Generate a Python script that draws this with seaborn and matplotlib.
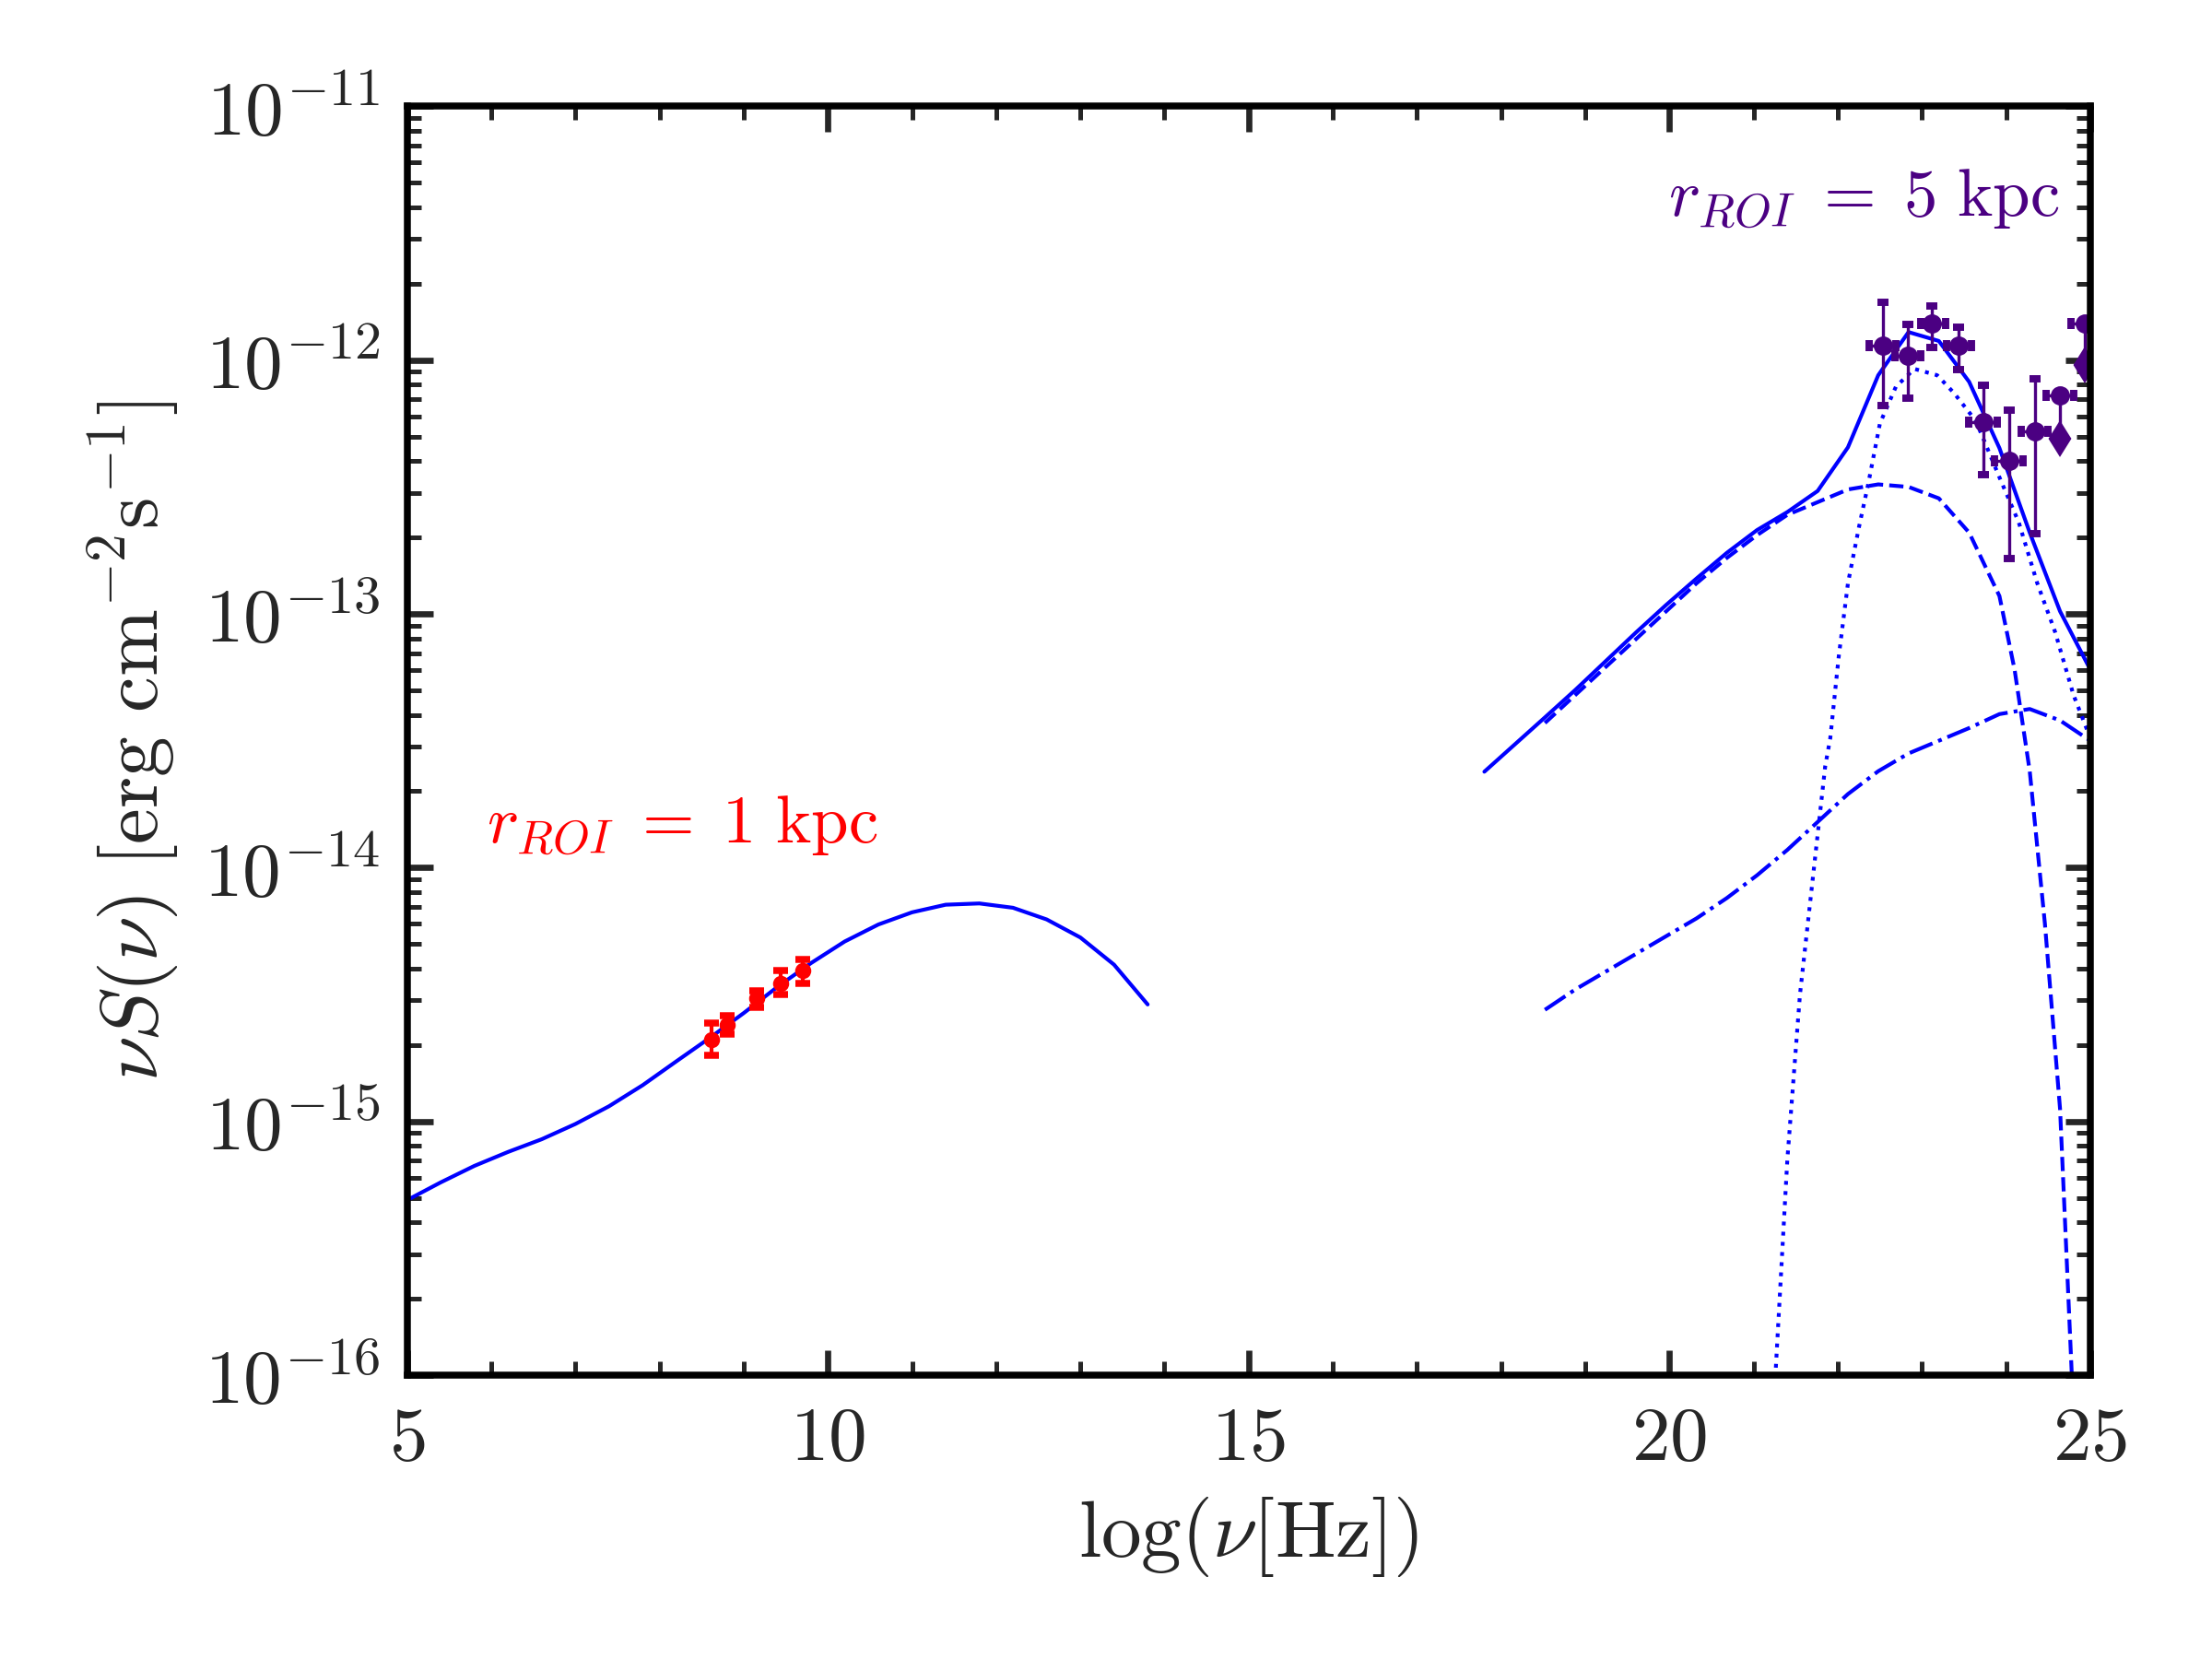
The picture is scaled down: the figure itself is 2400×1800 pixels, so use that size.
import numpy as np
import pandas as pd
import matplotlib
matplotlib.use('Agg')
import matplotlib.pyplot as plt
import seaborn as sns
from matplotlib.ticker import MultipleLocator, LogLocator, FuncFormatter, NullFormatter

# model curves, log10(nu [Hz]) vs log10(nu S(nu) [erg cm^-2 s^-1])
radio_lognu = [5.0, 5.4, 5.8, 6.2, 6.6, 7.0, 7.4, 7.8, 8.2, 8.6, 9.0, 9.4,
               9.8, 10.2, 10.6, 11.0, 11.4, 11.8, 12.2, 12.6, 13.0, 13.4, 13.8]
radio_logflux = [-15.31, -15.24, -15.175, -15.12, -15.07, -15.01, -14.94, -14.857,
                 -14.763, -14.67, -14.573, -14.47, -14.376, -14.291, -14.224, -14.176,
                 -14.146, -14.141, -14.158, -14.204, -14.275, -14.382, -14.539]

gamma_lognu = [17.80, 18.16, 18.52, 18.88, 19.24, 19.60, 19.96, 20.32, 20.68, 21.04,
               21.40, 21.76, 22.12, 22.48, 22.84, 23.20, 23.56, 23.92, 24.28, 24.64, 25.00]
total_logflux = [-13.622, -13.515, -13.408, -13.30, -13.187, -13.074, -12.965, -12.861,
                 -12.76, -12.67, -12.599, -12.516, -12.344, -12.06, -11.89, -11.925,
                 -12.086, -12.347, -12.68, -12.99, -13.22]

ic_lognu = [18.52, 18.88, 19.24, 19.60, 19.96, 20.32, 20.68, 21.04, 21.40, 21.76,
            22.12, 22.48, 22.84, 23.20, 23.56, 23.92, 24.10, 24.28, 24.46, 24.64, 24.82]
ic_logflux = [-13.43, -13.32, -13.21, -13.10, -12.99, -12.88, -12.78, -12.69, -12.61,
              -12.56, -12.51, -12.49, -12.50, -12.545, -12.68, -12.93, -13.22, -13.62,
              -14.22, -14.95, -16.3]

pion_lognu = [21.25, 21.40, 21.55, 21.70, 21.85, 21.91, 22.01, 22.12, 22.25, 22.36,
              22.50, 22.69, 22.91, 23.18, 23.38, 23.64, 23.93, 24.15, 24.37, 24.58,
              24.80, 25.00]
pion_logflux = [-16.05, -15.15, -14.50, -14.05, -13.60, -13.49, -13.17, -12.88, -12.66,
                -12.49, -12.25, -12.105, -12.035, -12.06, -12.13, -12.24, -12.47, -12.64,
                -12.88, -13.07, -13.32, -13.49]

brems_lognu = [18.52, 18.88, 19.24, 19.60, 19.96, 20.32, 20.68, 21.04, 21.40, 21.76,
               22.12, 22.48, 22.84, 23.20, 23.56, 23.92, 24.28, 24.64, 25.00]
brems_logflux = [-14.56, -14.48, -14.41, -14.34, -14.27, -14.20, -14.12, -14.03, -13.93,
                 -13.82, -13.71, -13.62, -13.55, -13.50, -13.45, -13.395, -13.375,
                 -13.42, -13.50]

# radio data (red)
radio_x = [8.62, 8.80, 9.16, 9.44, 9.70]
radio_y = [-14.676, -14.620, -14.515, -14.455, -14.404]
radio_hi = [-14.612, -14.582, -14.485, -14.406, -14.360]
radio_lo = [-14.739, -14.654, -14.551, -14.500, -14.455]

# gamma-ray data (indigo)
fermi_x = [22.54, 22.83, 23.12, 23.43, 23.73, 24.04, 24.34]
fermi_xlo = [22.37, 22.68, 22.98, 23.29, 23.56, 23.86, 24.18]
fermi_xhi = [22.69, 22.99, 23.28, 23.59, 23.89, 24.20, 24.50]
fermi_y = [-11.945, -11.984, -11.858, -11.945, -12.244, -12.399, -12.280]
fermi_hi = [-11.774, -11.859, -11.786, -11.871, -12.098, -12.198, -12.074]
fermi_lo = [-12.180, -12.151, -11.951, -12.037, -12.452, -12.781, -12.684]

# upper limits
ul_x = [24.64, 24.93]
ul_xlo = [24.47, 24.77]
ul_xhi = [24.80, 25.09]
ul_y = [-12.138, -11.856]
ul_end = [-12.31, -12.02]

sns.set_theme(style='ticks')
plt.rcParams['font.family'] = ['DejaVu Serif']
plt.rcParams['mathtext.fontset'] = 'cm'

fig = plt.figure(figsize=(8, 6), dpi=300)
fig.subplots_adjust(left=0.184, right=0.945, top=0.936, bottom=0.171)
ax = fig.add_subplot(111)

def pw(v):
    return 10.0 ** np.asarray(v)

radio_df = pd.DataFrame({'x': radio_lognu, 'y': pw(radio_logflux)})
total_df = pd.DataFrame({'x': gamma_lognu, 'y': pw(total_logflux)})
ic_df = pd.DataFrame({'x': ic_lognu, 'y': pw(ic_logflux)})
pion_df = pd.DataFrame({'x': pion_lognu, 'y': pw(pion_logflux)})
brems_df = pd.DataFrame({'x': brems_lognu, 'y': pw(brems_logflux)})

lw = 1.0
sns.lineplot(data=radio_df, x='x', y='y', ax=ax, color='blue', lw=lw)
sns.lineplot(data=total_df, x='x', y='y', ax=ax, color='blue', lw=lw)
sns.lineplot(data=ic_df, x='x', y='y', ax=ax, color='blue', lw=lw, linestyle='--')
sns.lineplot(data=pion_df, x='x', y='y', ax=ax, color='blue', lw=lw, linestyle=':')
sns.lineplot(data=brems_df, x='x', y='y', ax=ax, color='blue', lw=lw, linestyle='-.')

# radio points
ry = pw(radio_y)
ax.errorbar(radio_x, ry, yerr=[ry - pw(radio_lo), pw(radio_hi) - ry],
            fmt='o', color='red', ms=3.2, elinewidth=1.0, capsize=2.0, capthick=1.8)

# gamma points
fx = np.array(fermi_x)
fy = pw(fermi_y)
ax.errorbar(fx, fy, yerr=[fy - pw(fermi_lo), pw(fermi_hi) - fy],
            xerr=[fx - np.array(fermi_xlo), np.array(fermi_xhi) - fx],
            fmt='o', color='indigo', ms=4, elinewidth=0.8, capsize=1.45, capthick=1.9)

ux = np.array(ul_x)
uy = pw(ul_y)
ax.errorbar(ux, uy, xerr=[ux - np.array(ul_xlo), np.array(ul_xhi) - ux],
            fmt='o', color='indigo', ms=4, elinewidth=0.8, capsize=1.45, capthick=1.9)
ax.vlines(ux, pw(ul_end), uy, color='indigo', lw=0.8)
ax.plot(ux, pw(ul_end), linestyle='none', marker='d', color='indigo', ms=5.5)

ax.set_xscale('linear')
ax.set_yscale('log')
ax.set_xlim(5, 25)
ax.set_ylim(1e-16, 1e-11)

ax.xaxis.set_major_locator(MultipleLocator(5))
ax.xaxis.set_minor_locator(MultipleLocator(1))
ax.xaxis.set_major_formatter(FuncFormatter(lambda v, p: r'$%d$' % round(v)))
ax.yaxis.set_major_locator(LogLocator(base=10, numticks=10))
ax.yaxis.set_minor_locator(LogLocator(base=10, subs=np.arange(2, 10), numticks=20))
ax.yaxis.set_major_formatter(FuncFormatter(lambda v, p: r'$10^{%d}$' % round(np.log10(v))))
ax.yaxis.set_minor_formatter(NullFormatter())

ax.tick_params(which='both', direction='in', top=True, right=True, labelsize=20, pad=7)
ax.tick_params(which='major', length=6.6, width=1.6)
ax.tick_params(which='minor', length=3.7, width=1.2)
for s in ax.spines.values():
    s.set_linewidth(1.8)
    s.set_color('black')

ax.set_xlabel(r'$\log(\nu[\mathrm{Hz}])$', fontsize=21, labelpad=5)
ax.set_ylabel(r'$\nu S(\nu)\ [\mathrm{erg\ cm^{-2} s^{-1}}]$', fontsize=21, labelpad=6)

ax.text(5.95, 10 ** -13.90, r'$r_{ROI}\;=\;1\ \mathrm{kpc}$', color='red', fontsize=17.5,
        va='baseline', ha='left')
ax.text(19.99, 10 ** -11.43, r'$r_{ROI}\;=\;5\ \mathrm{kpc}$', color='indigo', fontsize=17.5,
        va='baseline', ha='left')

fig.savefig('out.png', dpi=300)
plt.close(fig)
